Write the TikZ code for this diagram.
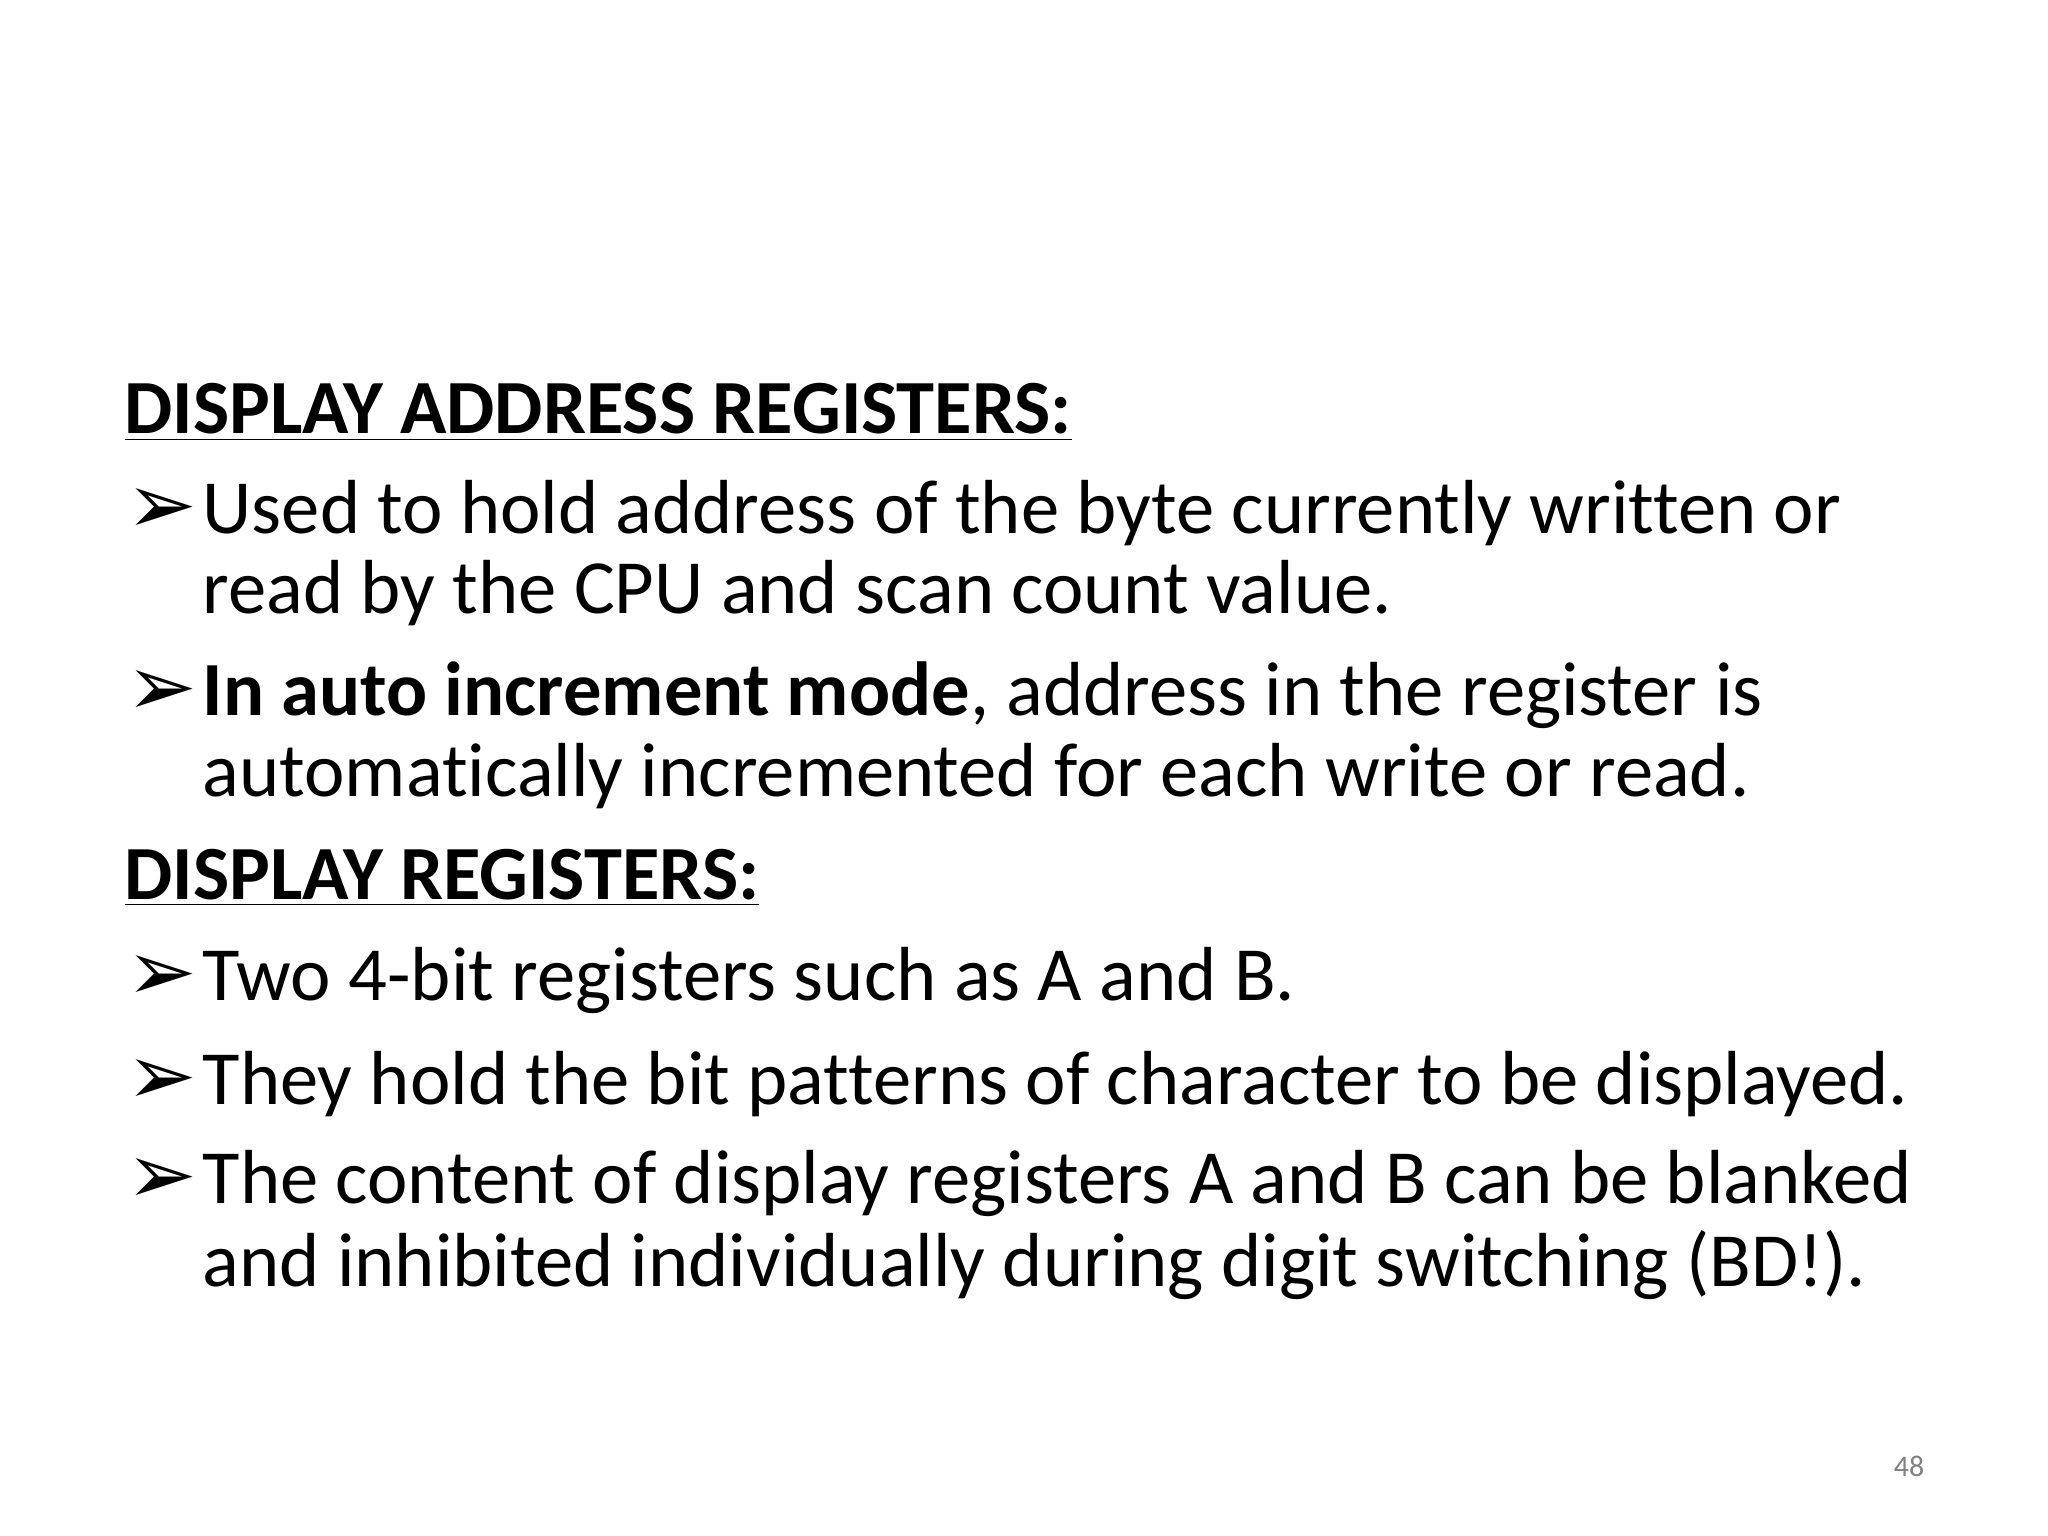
\documentclass[tikz,border=0pt]{standalone}
\usepackage{fontspec}
\setmainfont[Ligatures=NoCommon]{Carlito}
\newfontfamily\symfont{DejaVu Sans}
\begin{document}
\begin{tikzpicture}[x=1cm,y=1cm,
  txt/.style={anchor=base west,inner sep=0pt,font=\fontsize{21.8}{26}\selectfont},
  bul/.style={anchor=base west,inner sep=0pt,font=\fontsize{24}{28}\symfont\bfseries}]
\useasboundingbox (0,0) rectangle (20.48,-15.36);
\node[txt] (h1) at (1.24,-4.34) {\textbf{\underline{DISPLAY ADDRESS REGISTERS:}}};
\node[bul] (b1) at (1.26,-5.33) {➢};
\node[txt] (t1) at (2.02,-5.33) {Used to hold address of the byte currently written or};
\node[txt] (t1b) at (2.02,-6.14) {read by the CPU and scan count value.};
\node[bul] (b2) at (1.26,-7.16) {➢};
\node[txt] (t2) at (2.02,-7.16) {\textbf{In auto increment mode}, address in the register is};
\node[txt] (t2b) at (2.02,-7.97) {automatically incremented for each write or read.};
\node[txt] (h2) at (1.24,-8.99) {\textbf{\underline{DISPLAY REGISTERS:}}};
\node[bul] (b3) at (1.26,-10.00) {➢};
\node[txt] (t3) at (2.02,-10.00) {Two 4-bit registers such as A and B.};
\node[bul] (b4) at (1.26,-11.04) {➢};
\node[txt] (t4) at (2.02,-11.04) {They hold the bit patterns of character to be displayed.};
\node[bul] (b5) at (1.26,-12.04) {➢};
\node[txt] (t5) at (2.02,-12.04) {The content of display registers A and B can be blanked};
\node[txt] (t5b) at (2.02,-12.86) {and inhibited individually during digit switching (BD!).};
\node[anchor=base,inner sep=0pt,font=\fontsize{8.5}{10}\selectfont,text=gray] (pg) at (19.09,-14.76) {48};
\end{tikzpicture}
\end{document}
